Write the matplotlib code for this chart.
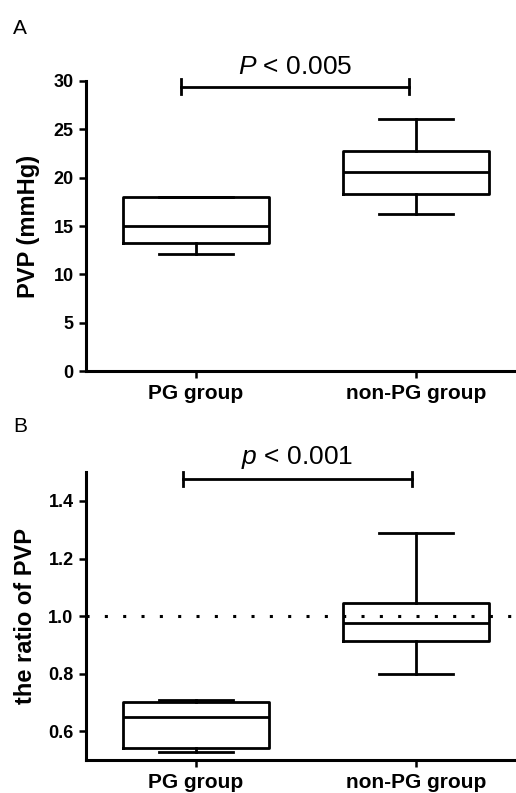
import matplotlib
matplotlib.use('Agg')
import matplotlib.pyplot as plt

plt.rcParams['font.family'] = ['Liberation Sans', 'DejaVu Sans']
plt.rcParams['mathtext.fontset'] = 'custom'
plt.rcParams['mathtext.it'] = 'Liberation Sans:italic'
plt.rcParams['mathtext.rm'] = 'Liberation Sans'

groups = ['PG group', 'non-PG group']

# panel A: PVP (mmHg)
a_whislo = [12.1, 16.2]
a_q1 = [13.2, 18.3]
a_med = [15.0, 20.6]
a_q3 = [18.0, 22.8]
a_whishi = [18.0, 26.1]

# panel B: ratio of PVP
b_whislo = [0.527, 0.80]
b_q1 = [0.54, 0.913]
b_med = [0.65, 0.977]
b_q3 = [0.70, 1.044]
b_whishi = [0.709, 1.29]

fig = plt.figure(figsize=(5.16, 7.93), dpi=100)
axA = fig.add_axes([0.1667, 0.532, 0.84, 0.366])
axB = fig.add_axes([0.1667, 0.0416, 0.84, 0.363])

lw = 2.0


def draw_box(ax, lo, q1, med, q3, hi):
    stats = []
    for i in range(len(groups)):
        stats.append(dict(whislo=lo[i], q1=q1[i], med=med[i], q3=q3[i],
                          whishi=hi[i], label=groups[i]))
    ax.bxp(stats, positions=[1, 2], widths=0.66, capwidths=0.34,
           showfliers=False,
           boxprops=dict(color='black', linewidth=lw),
           medianprops=dict(color='black', linewidth=lw),
           whiskerprops=dict(color='black', linewidth=lw),
           capprops=dict(color='black', linewidth=lw))


def style(ax):
    ax.spines['top'].set_visible(False)
    ax.spines['right'].set_visible(False)
    ax.spines['left'].set_linewidth(2.2)
    ax.spines['bottom'].set_linewidth(2.2)
    ax.set_xlim(0.5, 2.47)
    ax.set_xticks([1, 2])
    ax.set_xticklabels(groups, fontsize=15, fontweight='bold')
    ax.tick_params(axis='y', width=1.8, length=5, pad=4, labelsize=13)
    ax.tick_params(axis='x', width=1.8, length=5, pad=4)
    for t in ax.get_yticklabels():
        t.set_fontweight('bold')


def sig_bar(ax, x0, x1, y, dy, text, ty):
    ax.plot([x0, x1], [y, y], color='black', lw=lw, clip_on=False)
    ax.plot([x0, x0], [y - dy, y + dy], color='black', lw=lw, clip_on=False)
    ax.plot([x1, x1], [y - dy, y + dy], color='black', lw=lw, clip_on=False)
    ax.text((x0 + x1) / 2, ty, text, ha='center', va='baseline',
            fontsize=19, clip_on=False)


# panel A
draw_box(axA, a_whislo, a_q1, a_med, a_q3, a_whishi)
axA.set_ylim(0, 30)
axA.set_yticks([0, 5, 10, 15, 20, 25, 30])
style(axA)
axA.set_ylabel('PVP (mmHg)', fontsize=17, fontweight='bold', labelpad=10)
sig_bar(axA, 0.93, 1.97, 29.4, 0.8, r'$\it{P}$ < 0.005', 30.75)

# panel B
draw_box(axB, b_whislo, b_q1, b_med, b_q3, b_whishi)
axB.axhline(1.0, color='black', lw=2.2, linestyle=(0, (1, 5)), zorder=3)
axB.set_ylim(0.5, 1.5)
axB.set_yticks([0.6, 0.8, 1.0, 1.2, 1.4])
style(axB)
axB.set_ylabel('the ratio of PVP', fontsize=17, fontweight='bold', labelpad=8)
sig_bar(axB, 0.94, 1.98, 1.476, 0.025, r'$\it{p}$ < 0.001', 1.53)

fig.text(0.025, 1 - 34 / 793, 'A', fontsize=15)
fig.text(0.025, 1 - 432 / 793, 'B', fontsize=15)

fig.savefig('out.png', dpi=100)
